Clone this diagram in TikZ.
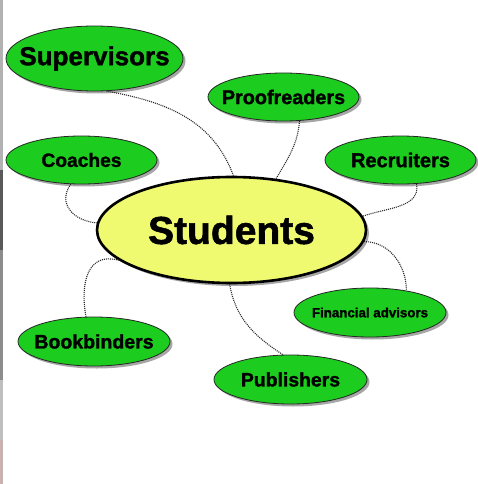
\documentclass[tikz,border=0pt]{standalone}
\usepackage{fontspec}
\setmainfont{Liberation Sans}[BoldFeatures={FakeBold=1.4}]
\usetikzlibrary{shapes.geometric,shadows}
\definecolor{leafgreen}{RGB}{28,204,30}
\definecolor{hubyellow}{RGB}{240,250,112}
\newcommand{\nar}[1]{\makebox[0pt][c]{#1}}
\tikzset{
  leaf/.style={ellipse, draw=black!85, line width=0.8pt, fill=leafgreen, inner sep=0pt,
    font=\bfseries, text=black,
    drop shadow={shadow xshift=2.5pt, shadow yshift=-2.5pt, fill=black, opacity=0.35}},
  hub/.style={ellipse, draw=black, line width=2.6pt, fill=hubyellow, inner sep=0pt,
    font=\bfseries\fontsize{39}{42}\selectfont,
    drop shadow={shadow xshift=3pt, shadow yshift=-3pt, fill=black, opacity=0.35}},
  link/.style={draw=black!85, line width=1.1pt, dash pattern=on 1pt off 1pt}
}
\begin{document}
\begin{tikzpicture}[x=1pt,y=-1pt]
\useasboundingbox (0,0) rectangle (478,484);
\fill[white] (0,0) rectangle (478,484);
% left edge strip
\fill[black!30] (0,0) rectangle (3,170);
\fill[black!65] (0,170) rectangle (3,250);
\fill[black!45] (0,250) rectangle (3,380);
\fill[black!25] (0,380) rectangle (3,440);
\fill[red!30!black!30] (0,440) rectangle (3,484);

\node[hub, minimum width=269pt, minimum height=106pt] (stu) at (231.5,230) {\nar{Students}};
\node[leaf, minimum width=177pt, minimum height=65pt, font=\bfseries\fontsize{26}{28}\selectfont] (sup) at (94.5,58.5) {\nar{Supervisors}};
\node[leaf, minimum width=151pt, minimum height=48pt, font=\bfseries\fontsize{19.8}{22}\selectfont] (pro) at (283.5,97) {\nar{Proofreaders}};
\node[leaf, minimum width=151pt, minimum height=48pt, font=\bfseries\fontsize{19.2}{22}\selectfont] (coa) at (81.5,160) {\nar{Coaches}};
\node[leaf, minimum width=151pt, minimum height=48pt, font=\bfseries\fontsize{20}{22}\selectfont] (rec) at (400.5,160) {\nar{Recruiters}};
\node[leaf, minimum width=152pt, minimum height=49pt, font=\bfseries\fontsize{19.5}{22}\selectfont] (boo) at (94,341.5) {\nar{Bookbinders}};
\node[leaf, minimum width=152pt, minimum height=49pt, font=\bfseries\fontsize{13.3}{15}\selectfont] (fin) at (370,312.5) {\nar{Financial advisors}};
\node[leaf, minimum width=153pt, minimum height=49pt, font=\bfseries\fontsize{19.4}{22}\selectfont] (pub) at (290.5,379.5) {\nar{Publishers}};

\draw[link] (sup.290) to[out=-10, in=110] (stu.88);
\draw[link] (pro.304) to[out=265, in=60] (stu.49);
\draw[link] (coa.246) to[out=235, in=175, looseness=1.3] (stu.177);
\draw[link] (rec.304) to[out=280, in=20] (stu.6);
\draw[link] (stu.195) to[out=165, in=100, looseness=1.3] (boo.108);
\draw[link] (stu.-5) to[out=0, in=90] (fin.31);
\draw[link] (stu.268) to[out=280, in=147] (pub.107);
\end{tikzpicture}
\end{document}
